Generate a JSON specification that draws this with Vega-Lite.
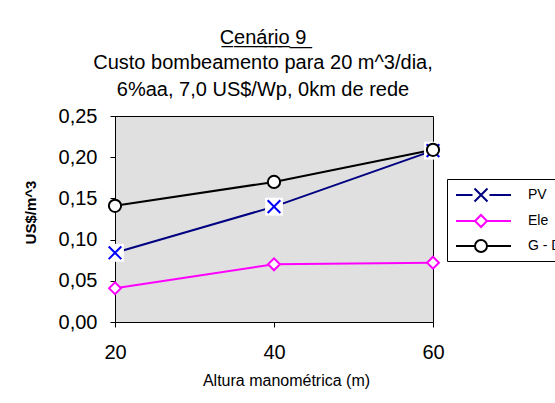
{
  "$schema": "https://vega.github.io/schema/vega-lite/v6.json",
  "width": 318,
  "height": 206,
  "autosize": {"type": "none"},
  "padding": {"left": 115, "top": 116, "right": 122, "bottom": 81},
  "background": "white",
  "config": {
    "font": "Liberation Sans",
    "view": {"fill": "#e0e0e0", "stroke": "#000000", "strokeWidth": 1}
  },
  "title": {
    "text": "C̲e̲n̲á̲r̲i̲o̲ ̲9̲",
    "subtitle": ["Custo bombeamento para 20 m^3/dia,", "6%aa, 7,0 US$/Wp, 0km de rede"],
    "font": "Liberation Sans",
    "subtitleFont": "Liberation Sans",
    "fontSize": 20,
    "fontWeight": "normal",
    "subtitleFontSize": 20,
    "subtitleLineHeight": 27,
    "subtitlePadding": 5,
    "subtitleColor": "#000000",
    "color": "#000000",
    "anchor": "middle",
    "dx": -11,
    "offset": 6
  },
  "data": {
    "values": [
      {"altura": 20, "series": "PV", "custo": 0.084},
      {"altura": 40, "series": "PV", "custo": 0.140},
      {"altura": 60, "series": "PV", "custo": 0.208},
      {"altura": 20, "series": "Ele", "custo": 0.041},
      {"altura": 40, "series": "Ele", "custo": 0.070},
      {"altura": 60, "series": "Ele", "custo": 0.072},
      {"altura": 20, "series": "G-D", "custo": 0.141},
      {"altura": 40, "series": "G-D", "custo": 0.170},
      {"altura": 60, "series": "G-D", "custo": 0.209}
    ]
  },
  "encoding": {
    "x": {
      "field": "altura",
      "type": "quantitative",
      "scale": {"domain": [20, 60], "nice": false, "zero": false},
      "axis": {
        "values": [20, 40, 60],
        "title": "Altura manométrica (m)",
        "titleFontSize": 16,
        "titleFontWeight": "normal",
        "titlePadding": 10,
        "titleX": 171,
        "labelFontSize": 20,
        "labelPadding": 15,
        "labelColor": "#000000",
        "titleColor": "#000000",
        "grid": false,
        "domainColor": "#000000",
        "tickColor": "#000000",
        "tickSize": 5,
        "labelFlush": false
      }
    },
    "y": {
      "field": "custo",
      "type": "quantitative",
      "scale": {"domain": [0, 0.25], "nice": false},
      "axis": {
        "values": [0, 0.05, 0.1, 0.15, 0.2, 0.25],
        "labelExpr": "replace(format(datum.value, '.2f'), '.', ',')",
        "title": "US$/m^3",
        "titleFontSize": 15,
        "titleFontWeight": "bold",
        "titlePadding": 20,
        "titleY": 96,
        "labelFontSize": 20,
        "labelPadding": 13,
        "labelColor": "#000000",
        "titleColor": "#000000",
        "grid": false,
        "domainColor": "#000000",
        "tickColor": "#000000",
        "tickSize": 5
      }
    }
  },
  "layer": [
    {
      "mark": {"type": "line", "strokeWidth": 2},
      "encoding": {
        "stroke": {
          "field": "series",
          "type": "nominal",
          "scale": {"domain": ["PV", "Ele", "G-D"], "range": ["#000080", "#FF00FF", "#000000"]},
          "legend": {
            "title": null,
            "orient": "none",
            "legendX": 332,
            "legendY": 63,
            "strokeColor": "#000000",
            "fillColor": "#ffffff",
            "padding": 5,
            "labelFontSize": 14,
            "labelColor": "#000000",
            "labelExpr": "datum.label === 'G-D' ? 'G - D' : datum.label",
            "symbolSize": 400,
            "symbolStrokeWidth": 2,
            "symbolOpacity": 1,
            "rowPadding": 4,
            "labelOffset": 54
          }
        }
      }
    },
    {
      "transform": [{"filter": "datum.series === 'PV'"}],
      "mark": {"type": "point", "shape": "square", "filled": true, "color": "#ffffff", "size": 320, "opacity": 1}
    },
    {
      "transform": [{"filter": "datum.series === 'PV'"}],
      "mark": {"type": "point", "shape": "M-1,-1L1,1M-1,1L1,-1", "filled": false, "stroke": "#0000FF", "strokeWidth": 2, "size": 160, "opacity": 1}
    },
    {
      "transform": [{"filter": "datum.series === 'Ele'"}],
      "mark": {"type": "point", "shape": "diamond", "filled": false, "fill": "#ffffff", "fillOpacity": 1, "stroke": "#FF00FF", "strokeWidth": 2, "size": 140, "opacity": 1}
    },
    {
      "transform": [{"filter": "datum.series === 'G-D'"}],
      "mark": {"type": "point", "shape": "circle", "filled": false, "fill": "#ffffff", "fillOpacity": 1, "stroke": "#000000", "strokeWidth": 2, "size": 150, "opacity": 1}
    },
    {
      "mark": {"type": "point", "filled": false, "strokeWidth": 2, "size": 0},
      "encoding": {
        "shape": {
          "field": "series",
          "type": "nominal",
          "scale": {"domain": ["PV", "Ele", "G-D"], "range": [
            "M-0.7,0H0.95M2.65,0H4.8M1.15,-0.65L2.45,0.65M1.15,0.65L2.45,-0.65",
            "M-0.7,0H1.2M2.4,0H4.8M1.2,0L1.8,-0.6L2.4,0L1.8,0.6Z",
            "M-0.7,0H1.2M2.4,0H4.8M1.2,0A0.6,0.6 0 1,0 2.4,0A0.6,0.6 0 1,0 1.2,0Z"
          ]},
          "legend": {
            "title": null,
            "orient": "none",
            "legendX": 332,
            "legendY": 63,
            "strokeColor": "#000000",
            "fillColor": "#ffffff",
            "padding": 5,
            "labelFontSize": 14,
            "labelColor": "#000000",
            "labelExpr": "datum.label === 'G-D' ? 'G - D' : datum.label",
            "symbolSize": 400,
            "symbolStrokeWidth": 2,
            "symbolOpacity": 1,
            "rowPadding": 4,
            "labelOffset": 54
          }
        }
      }
    }
  ]
}
